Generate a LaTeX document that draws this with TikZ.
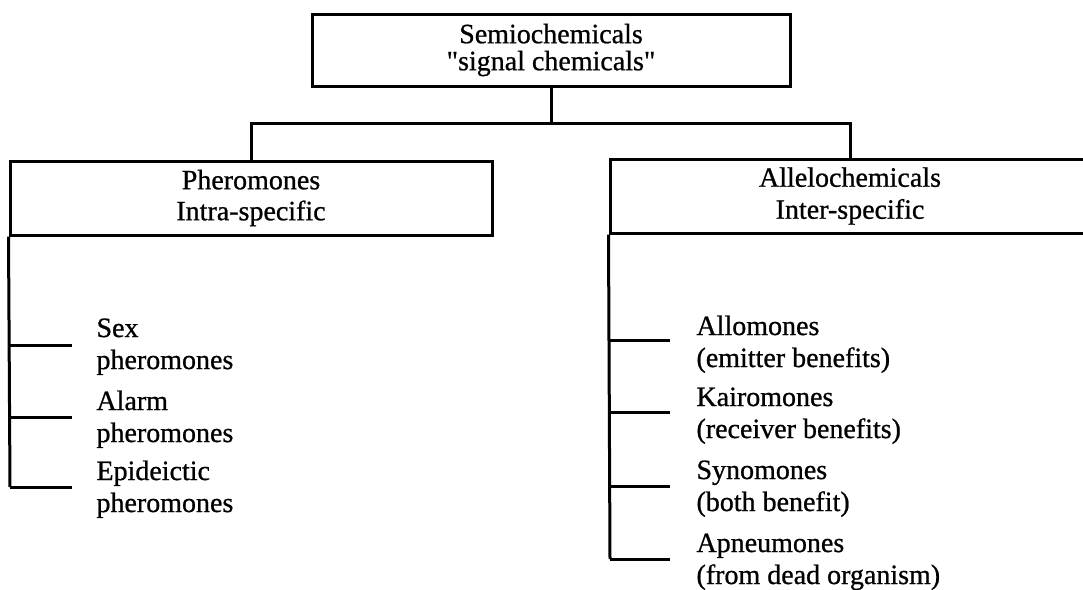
\documentclass[tikz,border=0pt]{standalone}
\usepackage{fontspec}
\setmainfont{Liberation Serif}[FakeBold=0.8, Ligatures=TeXOff]
\begin{document}
\begin{tikzpicture}[x=1pt,y=-1pt,
  line width=3pt, line join=miter,
  every node/.style={font=\fontsize{28}{32}\selectfont, inner sep=0pt},
  boxnode/.style={draw, align=center, line width=3pt},
  leaf/.style={anchor=base west, align=left},
  tick/.style={line width=3pt}]
\useasboundingbox (0,0) rectangle (1083,589);
\clip (0,0) rectangle (1083,589);
% boxes
\node[boxnode, minimum width=478pt, minimum height=72pt,
  font=\fontsize{28}{27}\selectfont] (top) at (551,50) {Semiochemicals\\"signal chemicals"};
\node[boxnode, minimum width=482pt, minimum height=74pt,
  font=\fontsize{28}{31}\selectfont] (left) at (251,198) {Pheromones\\Intra-specific};
\node[boxnode, minimum width=480pt, minimum height=74pt,
  font=\fontsize{28}{32}\selectfont] (right) at (850,196) {Allelochemicals\\Inter-specific};
% connectors
\coordinate (j) at (551,123);
\draw (top.south) -- (j);
\draw (left.north) -- (left.north |- j) -- (right.north |- j) -- (right.north);
% left bracket
\coordinate (lb) at (10,487);
\draw (left.south west) -- (lb);
\node[leaf] (sex) at (95,369) {Sex\\pheromones};
\node[leaf] (alarm) at (95,442) {Alarm\\pheromones};
\node[leaf] (epi) at (95,512) {Epideictic\\pheromones};
\coordinate (t1) at (72,345);
\coordinate (t2) at (72,417);
\coordinate (t3) at (72,487);
\draw[tick] (t1 -| lb) -- (t1);
\draw[tick] (t2 -| lb) -- (t2);
\draw[tick] (lb) -- (t3);
% right bracket
\coordinate (rb) at (610,559);
\draw (right.south west) -- (rb);
\node[leaf] (allo) at (695,367) {Allomones\\(emitter benefits)};
\node[leaf] (kairo) at (695,438) {Kairomones\\(receiver benefits)};
\node[leaf] (syno) at (695,511) {Synomones\\(both benefit)};
\node[leaf] (apneu) at (695,584) {Apneumones\\(from dead organism)};
\coordinate (r1) at (670,340);
\coordinate (r2) at (670,412);
\coordinate (r3) at (670,486);
\coordinate (r4) at (670,559);
\draw[tick] (r1 -| rb) -- (r1);
\draw[tick] (r2 -| rb) -- (r2);
\draw[tick] (r3 -| rb) -- (r3);
\draw[tick] (rb) -- (r4);
\end{tikzpicture}
\end{document}
